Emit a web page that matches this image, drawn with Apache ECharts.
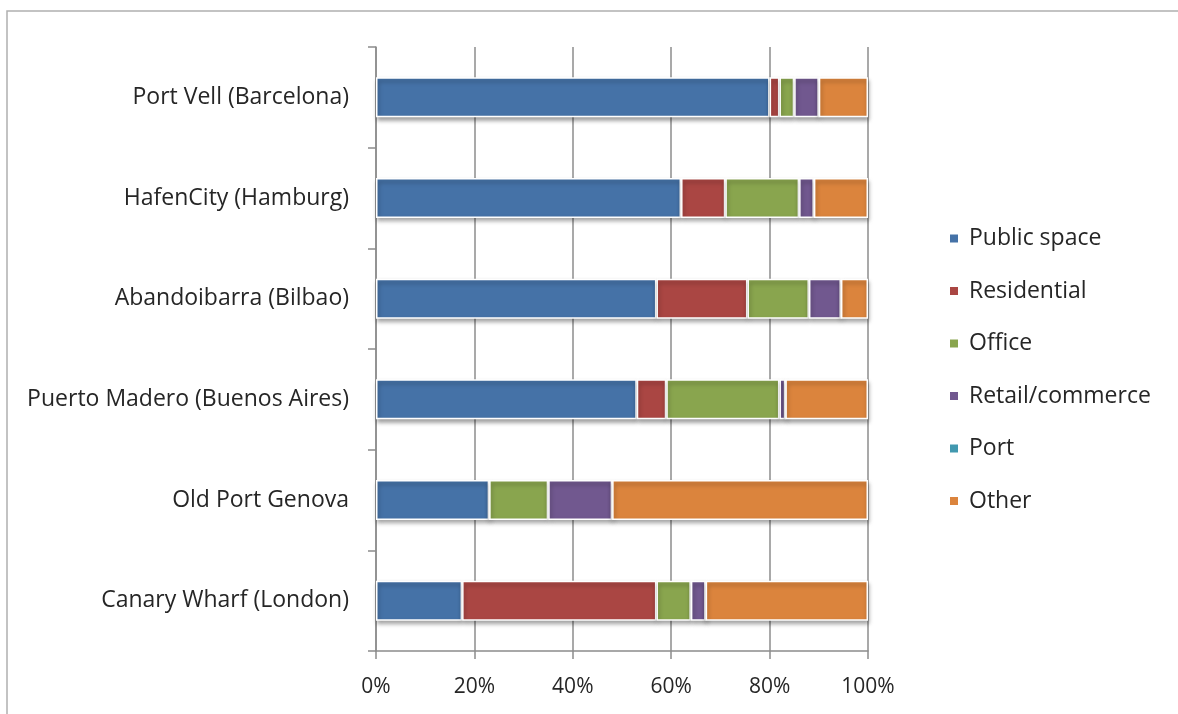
<!DOCTYPE html>
<html>
<head>
<meta charset="utf-8">
<script src="https://cdn.jsdelivr.net/npm/echarts@6/dist/echarts.min.js"></script>
<style>
html,body{margin:0;padding:0;background:#fff;}
#main{width:1178px;height:714px;}
</style>
</head>
<body>
<div id="main"></div>
<script>
var categories = ["Port Vell (Barcelona)", "HafenCity (Hamburg)", "Abandoibarra (Bilbao)", "Puerto Madero (Buenos Aires)", "Old Port Genova", "Canary Wharf (London)"];
var publicSpace = [80, 62, 57, 53, 23, 17.5];
var residential = [2, 9, 18.5, 6, 0, 39.5];
var office = [3, 15, 12.5, 23, 12, 7];
var retail = [5, 3, 6.5, 1.2, 13, 3];
var port = [0, 0, 0, 0, 0, 0];
var other = [10, 11, 5.5, 16.8, 52, 33];
var seriesNames = ["Public space", "Residential", "Office", "Retail/commerce", "Port", "Other"];
var xTicks = [0, 20, 40, 60, 80, 100];

var colors = ["#4572A7", "#AA4643", "#89A54E", "#71588F", "#4198AF", "#DB843D"];
var seriesData = [publicSpace, residential, office, retail, port, other];

var chart = echarts.init(document.getElementById('main'));
var fontFam = 'Open Sans, Lato, sans-serif';
var series = seriesNames.map(function (name, i) {
  return {
    name: name,
    type: 'bar',
    stack: 'total',
    barWidth: 40,
    data: seriesData[i],
    itemStyle: {
      color: colors[i],
      borderColor: '#ffffff',
      borderWidth: 1.5,
      shadowColor: 'rgba(0,0,0,0.35)',
      shadowBlur: 4,
      shadowOffsetY: 3,
      shadowOffsetX: 1
    }
  };
});

chart.setOption({
  animation: false,
  backgroundColor: '#fff',
  color: colors,
  graphic: [{
    type: 'rect',
    shape: { x: 7, y: 11, width: 1400, height: 900 },
    style: { fill: 'none', stroke: '#b0b0b0', lineWidth: 1.5 },
    z: -10, silent: true
  }],
  grid: { left: 376, right: 310, top: 47, bottom: 63, containLabel: false },
  legend: {
    orient: 'vertical',
    left: 943,
    top: 222,
    itemWidth: 10,
    itemHeight: 10,
    itemGap: 29.5,
    icon: 'rect',
    data: seriesNames,
    textStyle: { fontSize: 23, color: '#262626', fontFamily: fontFam, lineHeight: 22, padding: [0, 0, 0, 5] }
  },
  xAxis: {
    type: 'value',
    min: 0, max: 100, interval: 20,
    axisLine: { show: true, lineStyle: { color: '#8c8c8c', width: 1.5 } },
    axisTick: { show: true, length: 8, lineStyle: { color: '#8c8c8c', width: 1.5 } },
    splitLine: { show: true, lineStyle: { color: '#8c8c8c', width: 1.5 } },
    axisLabel: {
      margin: 26,
      fontSize: 21,
      color: '#262626',
      fontFamily: fontFam,
      formatter: function (v) { return xTicks.indexOf(v) >= 0 ? v + '%' : ''; }
    }
  },
  yAxis: {
    type: 'category',
    inverse: true,
    data: categories,
    axisLine: { show: true, lineStyle: { color: '#8c8c8c', width: 1.5 } },
    axisTick: { show: true, length: 8, inside: false, lineStyle: { color: '#8c8c8c', width: 1.5 } },
    axisLabel: { margin: 27, fontSize: 23, color: '#262626', fontFamily: fontFam }
  },
  series: series
});
</script>
</body>
</html>
